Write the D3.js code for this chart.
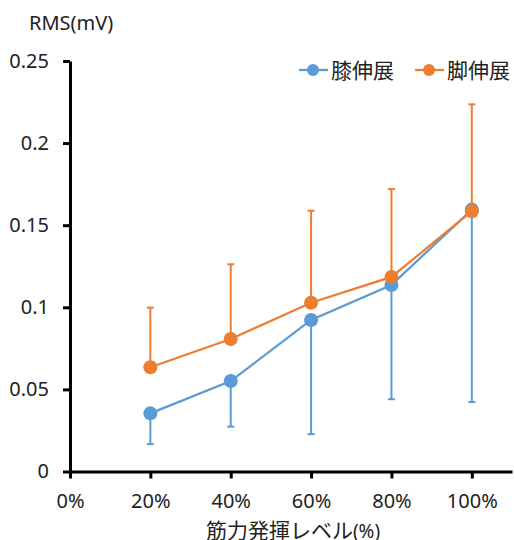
<!DOCTYPE html>
<html>
<head>
<meta charset="utf-8">
<script src="https://cdn.jsdelivr.net/npm/d3@7"></script>
<style>
  body { margin: 0; background: #fff; }
  text { font-family: "Noto Sans", "Noto Sans CJK JP", sans-serif; fill: #222; }
</style>
</head>
<body>
<svg id="Vis" width="514" height="540"></svg>
<script>
// data
var levels = [0.2, 0.4, 0.6, 0.8, 1.0];
var kneeVals = [0.0354, 0.0551, 0.0923, 0.1136, 0.1595];
var kneeLow = [0.0167, 0.0273, 0.0227, 0.0440, 0.0423];
var ankleVals = [0.0635, 0.0807, 0.1028, 0.1185, 0.1585];
var ankleHigh = [0.0998, 0.1262, 0.1588, 0.1720, 0.2236];
var xTicks = [0, 0.2, 0.4, 0.6, 0.8, 1.0];
var yTicks = [0, 0.05, 0.1, 0.15, 0.2, 0.25];
var seriesNames = ["膝伸展", "脚伸展"];
var colors = ["#5B9BD5", "#ED7D31"];

var svg = d3.select("#Vis");

var x = d3.scaleLinear().domain([0, 1.1]).range([70, 512]);
var y = d3.scaleLinear().domain([0, 0.25]).range([471.5, 61]);

// axes
var yAxis = svg.append("g")
    .attr("transform", "translate(" + x(0) + ",0)")
    .call(d3.axisLeft(y).tickValues(yTicks).tickSize(7).tickPadding(14).tickSizeOuter(0)
      .tickFormat(function(d){ return d == 0 ? "0" : String(+d.toFixed(2)); }));

var xAxis = svg.append("g")
    .attr("transform", "translate(0," + y(0) + ")")
    .call(d3.axisBottom(x).tickValues(xTicks).tickSize(7).tickPadding(15.5).tickSizeOuter(0)
      .tickFormat(function(d){ return Math.round(d*100) + "%"; }));

[xAxis, yAxis].forEach(function(g){
  g.select(".domain").attr("stroke", "#000").attr("stroke-width", 3);
  g.selectAll(".tick line").attr("stroke", "#000").attr("stroke-width", 3);
  g.selectAll(".tick text").attr("font-size", 20).attr("font-family", null).style("fill", "#222");
});

// error bars
function errorBars(vals, ends, color){
  var g = svg.append("g");
  g.selectAll("line.bar")
     .data(levels)
     .enter()
     .append("line")
     .attr("x1", function(d){ return x(d); })
     .attr("x2", function(d){ return x(d); })
     .attr("y1", function(d,i){ return y(vals[i]); })
     .attr("y2", function(d,i){ return y(ends[i]); })
     .attr("stroke", color)
     .attr("stroke-width", 2);
  g.selectAll("line.cap")
     .data(levels)
     .enter()
     .append("line")
     .attr("x1", function(d){ return x(d) - 3.5; })
     .attr("x2", function(d){ return x(d) + 3.5; })
     .attr("y1", function(d,i){ return y(ends[i]); })
     .attr("y2", function(d,i){ return y(ends[i]); })
     .attr("stroke", color)
     .attr("stroke-width", 2);
}

function series(vals, color){
  var line = d3.line()
     .x(function(d){ return x(d[0]); })
     .y(function(d){ return y(d[1]); });
  var pts = levels.map(function(d,i){ return [d, vals[i]]; });
  svg.append("path")
     .datum(pts)
     .attr("d", line)
     .attr("fill", "none")
     .attr("stroke", color)
     .attr("stroke-width", 2.25);
  svg.append("g").selectAll("circle")
     .data(pts)
     .enter()
     .append("circle")
     .attr("cx", function(d){ return x(d[0]); })
     .attr("cy", function(d){ return y(d[1]); })
     .attr("r", 7)
     .attr("fill", color);
}

errorBars(kneeVals, kneeLow, colors[0]);
series(kneeVals, colors[0]);
errorBars(ankleVals, ankleHigh, colors[1]);
series(ankleVals, colors[1]);

// legend
var legendX = [299, 415];
var legend = svg.selectAll("g.legend")
     .data(seriesNames)
     .enter()
     .append("g")
     .attr("class", "legend")
     .attr("transform", function(d,i){ return "translate(" + legendX[i] + ",70)"; });
legend.append("line")
     .attr("x1", 0).attr("x2", 29).attr("y1", 0).attr("y2", 0)
     .attr("stroke", function(d,i){ return colors[i]; })
     .attr("stroke-width", 2.25);
legend.append("circle")
     .attr("cx", 14).attr("cy", 0).attr("r", 6)
     .attr("fill", function(d,i){ return colors[i]; });
legend.append("text")
     .attr("x", 32).attr("y", 8)
     .attr("font-size", 21)
     .style("font-family", "'Noto Sans CJK JP', sans-serif")
     .text(function(d){ return d; });

// axis titles
svg.append("text")
   .attr("x", 29).attr("y", 30)
   .attr("font-size", 20)
   .text("RMS(mV)");

var xt = svg.append("text")
   .attr("x", 293).attr("y", 538)
   .attr("text-anchor", "middle")
   .attr("font-size", 21);
xt.append("tspan").style("font-family", "'Noto Sans CJK JP', sans-serif").text("筋力発揮レベル");
xt.append("tspan").attr("font-size", 19).text("(%)");
</script>
</body>
</html>
